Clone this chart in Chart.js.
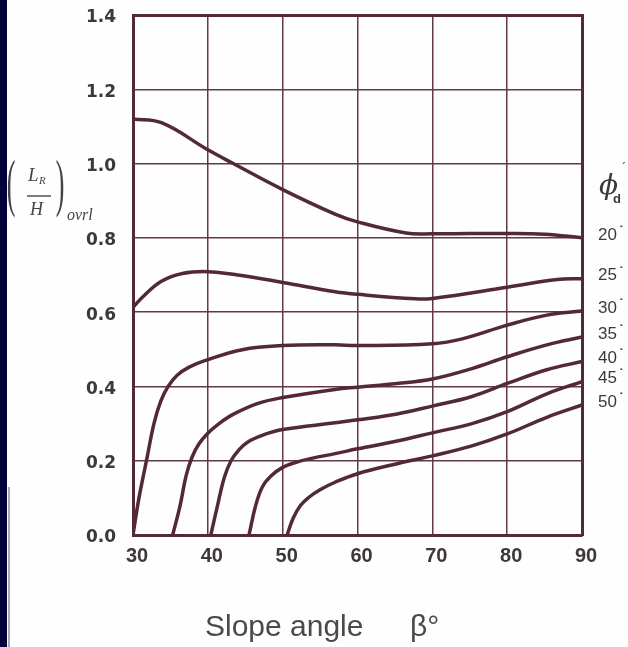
<!DOCTYPE html>
<html>
<head>
<meta charset="utf-8">
<script src="https://cdn.jsdelivr.net/npm/chart.js@4.4.1/dist/chart.umd.min.js"></script>
<style>
  html, body { margin: 0; padding: 0; background: #fefefe; }
  #wrap { position: relative; width: 628px; height: 647px; overflow: hidden; background: #fefefe; }
  #edge { position: absolute; left: 0; top: 0; width: 7px; height: 647px; background: #03023a; }
  #fold { position: absolute; left: 8px; top: 487px; width: 2px; height: 160px; background: #a9a9b4; }
  canvas { position: absolute; left: 0; top: 0; }
</style>
</head>
<body>
<div id="wrap">
  <div id="edge"></div><div id="fold"></div>
  <canvas id="chart" width="628" height="647"></canvas>
</div>
<script>
// L_R/H (overall) against slope angle beta, one curve per friction angle phi_d
const phiLabels = ['20', '25', '30', '35', '40', '45', '50'];

const beta20  = [30, 33.8, 40, 43.4, 50, 57, 60, 66.5, 70, 80, 85, 90];
const ratio20 = [1.12, 1.11, 1.037, 1.0, 0.93, 0.864, 0.843, 0.813, 0.811, 0.812, 0.81, 0.80];

const beta25  = [30, 31.4, 33.8, 36.6, 40, 44, 50, 57, 60, 67.7, 70, 80, 86.7, 90];
const ratio25 = [0.613, 0.643, 0.683, 0.704, 0.709, 0.70, 0.68, 0.655, 0.648, 0.636, 0.637, 0.667, 0.688, 0.69];

const beta30  = [30, 30.8, 31.8, 32.8, 33.7, 34.7, 35.9, 37.5, 39.7, 44.6, 50, 57, 60, 70, 74, 80, 85.3, 90];
const ratio30 = [0, 0.1, 0.2, 0.3, 0.36, 0.4, 0.43, 0.452, 0.47, 0.499, 0.51, 0.512, 0.51, 0.515, 0.528, 0.565, 0.592, 0.603];

const beta35  = [35.3, 36.3, 37.1, 37.9, 38.8, 40, 41.5, 43.5, 46.8, 50, 57, 60, 65.3, 70, 75.3, 80, 85.3, 90];
const ratio35 = [0, 0.08, 0.16, 0.21, 0.245, 0.274, 0.3, 0.326, 0.355, 0.37, 0.392, 0.398, 0.408, 0.42, 0.448, 0.48, 0.512, 0.533];

const beta40  = [40.4, 41.3, 42.2, 43.1, 44.1, 45.3, 47.5, 50, 57, 60, 65.3, 70, 75.3, 80, 85.3, 90];
const ratio40 = [0, 0.08, 0.155, 0.2, 0.228, 0.25, 0.27, 0.284, 0.302, 0.31, 0.326, 0.347, 0.373, 0.408, 0.445, 0.467];

const beta45  = [45.5, 46.4, 47.3, 48.4, 50, 52, 54, 57, 60, 65.3, 70, 75.3, 80, 85.3, 90];
const ratio45 = [0, 0.08, 0.13, 0.158, 0.182, 0.197, 0.207, 0.219, 0.232, 0.253, 0.275, 0.3, 0.332, 0.38, 0.413];

const beta50  = [50.6, 51.4, 52.4, 53.6, 55, 57, 60, 65.3, 70, 75.3, 80, 85.3, 90];
const ratio50 = [0, 0.045, 0.08, 0.103, 0.122, 0.142, 0.165, 0.192, 0.213, 0.24, 0.272, 0.317, 0.35];

const xTicks = [30, 40, 50, 60, 70, 80, 90];
const yTicks = [0, 0.2, 0.4, 0.6, 0.8, 1.0, 1.2, 1.4];

const curves = [
  [beta20, ratio20], [beta25, ratio25], [beta30, ratio30], [beta35, ratio35],
  [beta40, ratio40], [beta45, ratio45], [beta50, ratio50]
];

const ink = '#53293a';
const gridInk = '#62394a';
const textInk = '#3e373b';

const datasets = curves.map(([b, r], i) => ({
  label: phiLabels[i],
  data: b.map((v, j) => ({ x: v, y: r[j] })),
  borderColor: ink,
  borderWidth: 3.5,
  pointRadius: 0,
  tension: 0.4,
  fill: false
}));

// scale padding from tick labels would push the plot area in; the picture has none
function noScalePadding(s) {
  s.paddingTop = 0; s.paddingBottom = 0; s.paddingLeft = 0; s.paddingRight = 0;
}

// texts around the plot: y title as a fraction, x title, phi labels at curve ends
const annotate = {
  id: 'annotate',
  afterDraw(chart) {
    const ctx = chart.ctx;
    ctx.save();
    ctx.fillStyle = '#464246';
    ctx.strokeStyle = '#464246';

    // ( L_R / H )_ovrl
    ctx.textAlign = 'center';
    ctx.textBaseline = 'middle';
    ctx.font = '26px "Liberation Serif"';
    for (const px of [11, 60]) {
      ctx.save();
      ctx.translate(px, 192);
      ctx.scale(1, 2.4);
      ctx.fillText(px < 30 ? '(' : ')', 0, -2);
      ctx.restore();
    }
    ctx.textAlign = 'left';
    ctx.textBaseline = 'alphabetic';
    ctx.font = 'italic 19px "Liberation Serif"';
    ctx.fillText('L', 28, 181);
    ctx.font = 'italic 11px "Liberation Serif"';
    ctx.fillText('R', 39, 184);
    ctx.lineWidth = 1.4;
    ctx.beginPath();
    ctx.moveTo(27, 196);
    ctx.lineTo(51, 196);
    ctx.stroke();
    ctx.font = 'italic 18px "Liberation Serif"';
    ctx.fillText('H', 30, 215);
    ctx.font = 'italic 16px "Liberation Serif"';
    ctx.fillText('ovrl', 67, 220);

    // x title
    ctx.fillStyle = '#4d484c';
    ctx.font = '30px "Liberation Sans"';
    ctx.fillText('Slope angle', 205, 636);
    ctx.fillText('β°', 410, 636);

    // phi_d heading
    ctx.fillStyle = textInk;
    ctx.font = 'italic 28px "DejaVu Serif"';
    ctx.fillText('ϕ', 599, 194);
    ctx.font = 'bold 13px "Liberation Sans"';
    ctx.fillText('d', 613, 203);
    ctx.font = '13px "Liberation Sans"';
    ctx.fillText('\u00b4', 622, 172);

    // curve labels, placed at each curve's end
    ctx.textBaseline = 'middle';
    chart.data.datasets.forEach((ds, i) => {
      const pts = chart.getDatasetMeta(i).data;
      const y = pts[pts.length - 1].y - 3;
      ctx.font = '17px "Liberation Sans"';
      ctx.fillText(ds.label, 598, y);
      const w = ctx.measureText(ds.label).width;
      ctx.font = 'bold 14px "Liberation Sans"';
      ctx.fillText('\u02d9', 598 + w + 2, y - 3);
    });
    ctx.restore();
  }
};

const ctx = document.getElementById('chart');
new Chart(ctx.getContext('2d'), {
  type: 'line',
  data: { datasets },
  options: {
    responsive: false,
    devicePixelRatio: 1,
    animation: false,
    layout: { padding: 0 },
    plugins: { legend: { display: false }, tooltip: { enabled: false } },
    scales: {
      x: {
        type: 'linear', position: 'bottom', min: 30, max: 90,
        afterBuildTicks: s => { s.ticks = xTicks.map(v => ({ value: v })); },
        afterFit: s => { s.height = 112; noScalePadding(s); },
        grid: { color: gridInk, lineWidth: 1.5, drawTicks: false },
        border: { color: ink, width: 3 },
        ticks: {
          padding: 9, labelOffset: 4, maxRotation: 0, color: textInk,
          font: { family: 'Liberation Sans', weight: 'bold', size: 20 },
          callback: v => String(v)
        }
      },
      y: {
        type: 'linear', position: 'left', min: 0, max: 1.4,
        afterBuildTicks: s => { s.ticks = yTicks.map(v => ({ value: v })); },
        afterFit: s => { s.width = 133; noScalePadding(s); },
        grid: { color: gridInk, lineWidth: 1.5, drawTicks: false },
        border: { color: ink, width: 3 },
        ticks: {
          padding: 17, labelOffset: 3, color: textInk,
          font: { family: 'DejaVu Sans', weight: 'bold', size: 17 },
          callback: v => Number(v).toFixed(1)
        }
      },
      xTop: {
        type: 'linear', position: 'top', min: 30, max: 90,
        afterFit: s => { s.height = 15; noScalePadding(s); },
        grid: { display: false },
        border: { color: ink, width: 3 },
        ticks: { display: false }
      },
      yRight: {
        type: 'linear', position: 'right', min: 0, max: 1.4,
        afterFit: s => { s.width = 46; noScalePadding(s); },
        grid: { display: false },
        border: { color: ink, width: 3 },
        ticks: { display: false }
      }
    }
  },
  plugins: [annotate]
});
</script>
</body>
</html>
